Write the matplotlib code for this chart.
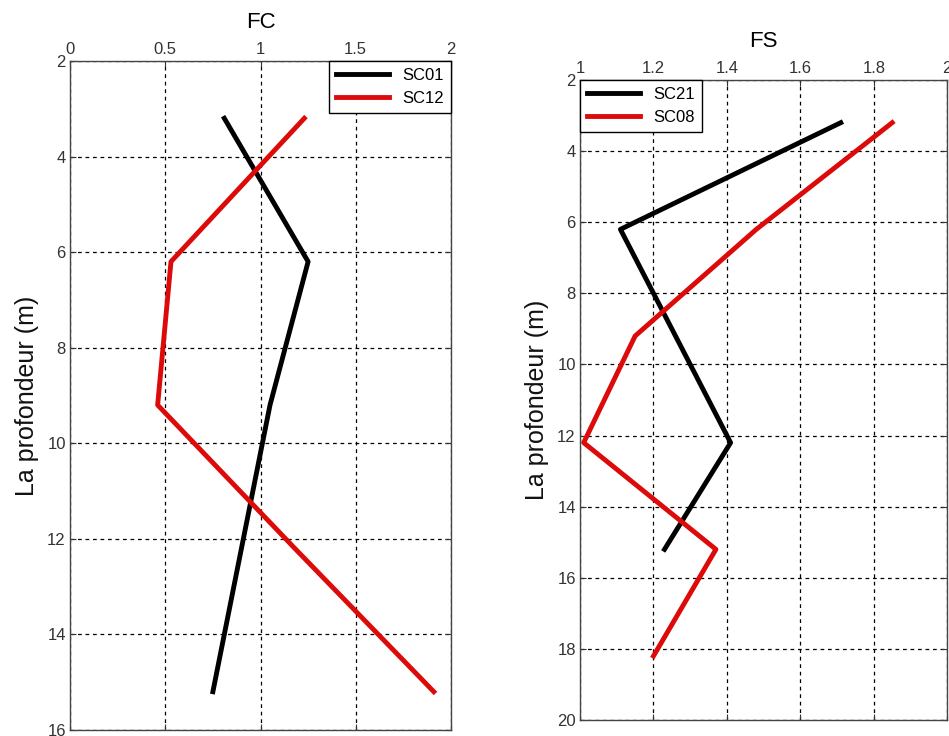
import matplotlib.pyplot as plt

plt.rcParams['font.family'] = ['Liberation Sans', 'DejaVu Sans']

# depth (m) for each profile
depth_fc = [3.2, 6.2, 9.2, 12.2, 15.2]
sc01 = [0.81, 1.25, 1.05, 0.90, 0.75]
sc12 = [1.23, 0.53, 0.46, 1.18, 1.91]

depth_fs21 = [3.2, 6.2, 9.2, 12.2, 15.2]
sc21 = [1.71, 1.11, 1.26, 1.41, 1.23]
depth_fs08 = [3.2, 6.2, 9.2, 12.2, 15.2, 18.2]
sc08 = [1.85, 1.48, 1.15, 1.01, 1.37, 1.20]

fc_xticks = [0, 0.5, 1, 1.5, 2]
fc_yticks = [2, 4, 6, 8, 10, 12, 14, 16]
fs_xticks = [1, 1.2, 1.4, 1.6, 1.8, 2]
fs_yticks = [2, 4, 6, 8, 10, 12, 14, 16, 18, 20]

red = '#dd0a0a'

fig = plt.figure(figsize=(9.49, 7.36), dpi=100)
ax1 = fig.add_axes([0.0738, 0.0082, 0.4014, 0.909])
ax2 = fig.add_axes([0.6112, 0.0217, 0.387, 0.8696])


def style(ax, xticks, yticks, title, title_pad):
    ax.set_xlim(xticks[0], xticks[-1])
    ax.set_ylim(yticks[-1], yticks[0])
    ax.set_xticks(xticks)
    ax.set_xticklabels([f'{t:g}' for t in xticks])
    ax.set_yticks(yticks)
    ax.xaxis.tick_top()
    ax.tick_params(direction='in', labelsize=12, colors='#333333', length=4,
                   top=True, bottom=True, left=True, right=True, pad=3)
    ax.grid(True, color='black', linestyle=(0, (3, 3)), linewidth=0.9)
    for s in ax.spines.values():
        s.set_color('#444444')
        s.set_linewidth(1.0)
    ax.set_ylabel('La profondeur (m)', fontsize=18, color='#111111', labelpad=6)
    ax.set_title(title, fontsize=16, pad=title_pad)


ax1.plot(sc01, depth_fc, color='black', linewidth=3.5, label='SC01')
ax1.plot(sc12, depth_fc, color=red, linewidth=3.5, label='SC12')
style(ax1, fc_xticks, fc_yticks, 'FC', 24)
ax1.legend(loc='upper right', borderaxespad=0, fancybox=False, edgecolor='black',
           framealpha=1, fontsize=12, handlelength=3.2, labelspacing=0.5)

ax2.plot(sc21, depth_fs21, color='black', linewidth=3.5, label='SC21')
ax2.plot(sc08, depth_fs08, color=red, linewidth=3.5, label='SC08')
style(ax2, fs_xticks, fs_yticks, 'FS', 24)
ax2.legend(loc='upper left', borderaxespad=0, fancybox=False, edgecolor='black',
           framealpha=1, fontsize=12, handlelength=3.2, labelspacing=0.5)

fig.savefig('out.png', dpi=100)
